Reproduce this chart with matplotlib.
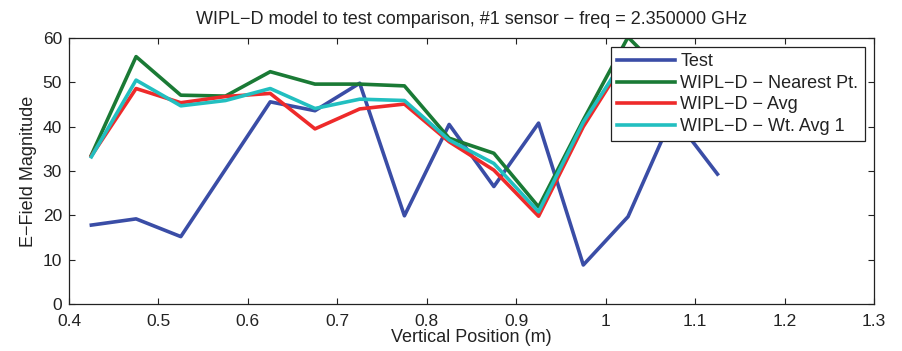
import numpy as np
import matplotlib.pyplot as plt

plt.rcParams["font.family"] = ["Liberation Sans", "DejaVu Sans"]
plt.rcParams["font.size"] = 13

# vertical positions of the sensor (m)
position = [0.425, 0.475, 0.525, 0.575, 0.625, 0.675, 0.725, 0.775,
            0.825, 0.875, 0.925, 0.975, 1.025, 1.075, 1.125]

# E-field magnitudes
test = [17.8, 19.2, 15.2, 30.4, 45.6, 43.6, 49.8, 19.9,
        40.5, 26.5, 40.8, 8.8, 19.7, 42.5, 29.3]
nearest = [33.6, 55.8, 47.1, 46.9, 52.4, 49.6, 49.6, 49.2,
           37.4, 34.0, 21.9, 41.5, 60.2, 50.0, 46.0]
avg = [33.4, 48.6, 45.4, 46.8, 47.5, 39.5, 44.0, 45.1,
       36.6, 30.2, 19.8, 40.0, 56.0, 47.0, 44.0]
wt_avg = [33.2, 50.5, 44.7, 45.9, 48.6, 44.1, 46.2, 45.9,
          37.0, 31.7, 20.8, 41.0, 56.5, 48.0, 45.0]

series_labels = ["Test", "WIPL\u2212D \u2212 Nearest Pt.",
                 "WIPL\u2212D \u2212 Avg", "WIPL\u2212D \u2212 Wt. Avg 1"]
colors = ["#3a4da6", "#1a7a35", "#ee2a2a", "#22bfc0"]
txt = "#222222"

fig = plt.figure(figsize=(9.03, 3.51), dpi=100)
ax = fig.add_axes([69 / 903, 47 / 351, 805 / 903, 266 / 351])

for y, lab, c in zip([test, nearest, avg, wt_avg], series_labels, colors):
    ax.plot(position, y, color=c, linewidth=2.6, label=lab,
            solid_joinstyle="round")

ax.set_xlim(0.4, 1.3)
ax.set_ylim(0, 60)
ax.set_xticks(np.arange(0.4, 1.31, 0.1))
ax.set_xticklabels(["0.4", "0.5", "0.6", "0.7", "0.8", "0.9", "1",
                    "1.1", "1.2", "1.3"])
ax.set_yticks(np.arange(0, 61, 10))

ax.tick_params(direction="in", top=True, right=True, length=4.5,
               width=0.8, colors=txt, labelsize=12.5)
ax.tick_params(axis="x", pad=7)
ax.tick_params(axis="y", pad=5)
for sp in ax.spines.values():
    sp.set_linewidth(0.9)
    sp.set_color(txt)

ax.set_title("WIPL\u2212D model to test comparison, #1 sensor \u2212 freq = 2.350000 GHz",
             color=txt, fontsize=13, pad=10)
ax.set_xlabel("Vertical Position (m)", color=txt, fontsize=13, labelpad=0)
ax.set_ylabel("E\u2212Field Magnitude", color=txt, fontsize=13, labelpad=4)

leg = ax.legend(loc="upper left", bbox_to_anchor=(0.673, 0.966),
                borderaxespad=0, fancybox=False, framealpha=1,
                edgecolor=txt, handlelength=3.2, handletextpad=0.3,
                borderpad=0.35, labelspacing=0.25, fontsize=13)
leg.get_frame().set_linewidth(0.9)
for t in leg.get_texts():
    t.set_color(txt)

fig.savefig("out.png", dpi=100)
